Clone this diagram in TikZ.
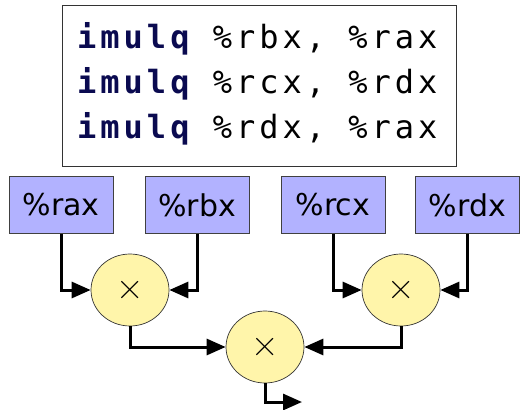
\documentclass[tikz,border=0pt]{standalone}
\usepackage{fontspec}
\setsansfont{DejaVu Sans}
\setmonofont[LetterSpace=12.5]{DejaVu Sans Mono}
\usetikzlibrary{arrows.meta,shapes.geometric}
\definecolor{regfill}{RGB}{178,178,255}
\definecolor{mulfill}{RGB}{255,245,170}
\definecolor{opcode}{RGB}{10,10,80}
\tikzset{
  reg/.style={draw=black!75, fill=regfill, line width=0.9pt,
    minimum width=104pt, minimum height=57pt, inner sep=0pt,
    font=\sffamily\fontsize{30}{34}\selectfont},
  mul/.style={ellipse, draw=black!80, fill=mulfill, line width=0.7pt,
    minimum width=78pt, minimum height=72pt, inner sep=0pt,
    font=\rmfamily\fontsize{38}{42}\selectfont},
  flow/.style={line width=3pt, -{Triangle[length=19pt,width=16pt]}},
  codeline/.style={anchor=base west, inner sep=0pt,
    font=\ttfamily\fontsize{32}{36}\selectfont},
}
\newcommand{\opc}[1]{\textcolor{opcode}{\bfseries #1}}
\begin{document}
\begin{tikzpicture}[x=1pt, y=-1pt]
\useasboundingbox (0,0) rectangle (520,410);
% assembly listing
\node[draw=black!80, line width=1pt, minimum width=394pt, minimum height=161pt,
      inner sep=0pt] (code) at (259,85.5) {};
\node[codeline] (l1) at (77,48) {\opc{imulq} \%rbx, \%rax};
\node[codeline] (l2) at (77,93) {\opc{imulq} \%rcx, \%rdx};
\node[codeline] (l3) at (77,138) {\opc{imulq} \%rdx, \%rax};
% registers
\node[reg] (rax) at (61,205) {\%rax};
\node[reg] (rbx) at (197,205) {\%rbx};
\node[reg] (rcx) at (333,205) {\%rcx};
\node[reg] (rdx) at (467.5,205) {\%rdx};
% multipliers
\node[mul] (m1) at (130,290) {×};
\node[mul] (m2) at (401,290) {×};
\node[mul] (m3) at (265,347) {×};
\coordinate (out) at (302,402);
% data flow
\draw[flow] (rax.south) |- (m1.west);
\draw[flow] (rbx.south) |- (m1.east);
\draw[flow] (rcx.south) |- (m2.west);
\draw[flow] (rdx.south) |- (m2.east);
\draw[flow] (m1.south) |- (m3.west);
\draw[flow] (m2.south) |- (m3.east);
\draw[flow] (m3.south) |- (out);
\end{tikzpicture}
\end{document}
